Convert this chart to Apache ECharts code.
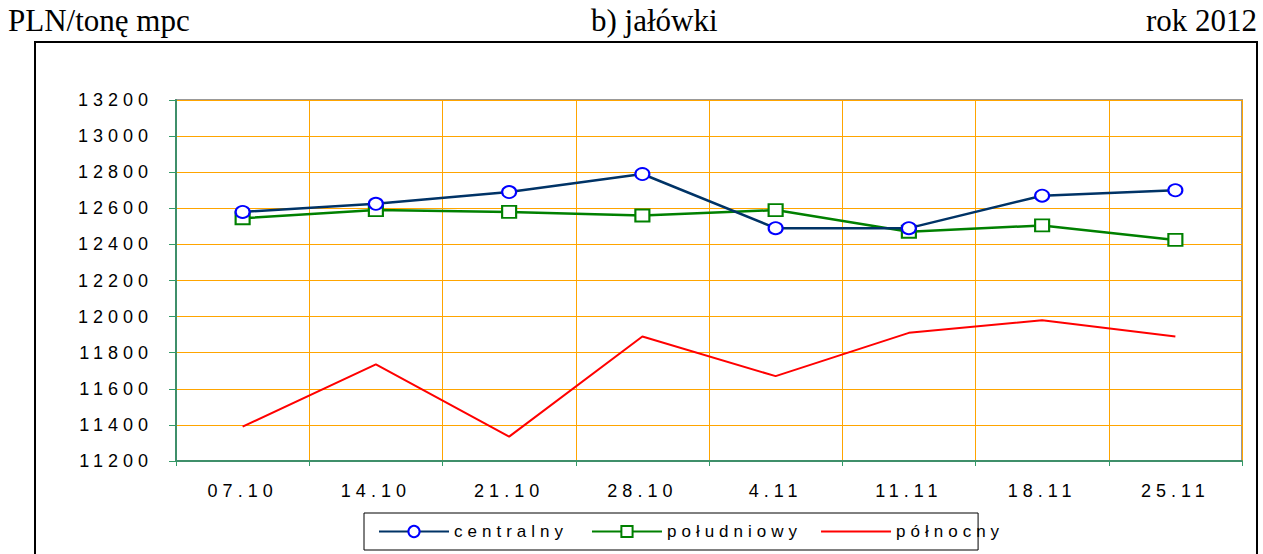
<!DOCTYPE html>
<html>
<head>
<meta charset="utf-8">
<script src="https://cdn.jsdelivr.net/npm/echarts@6/dist/echarts.min.js"></script>
<style>
  html, body { margin: 0; padding: 0; background: #fff; }
  #main { width: 1263px; height: 554px; }
  /* rozstrzelone napisy jak w Excelu, tytuly bez */
  #main text { letter-spacing: 5px; }
  #main text[style*="Serif"] { letter-spacing: 0; }
</style>
</head>
<body>
<div id="main"></div>
<script>
var categories = ['07.10', '14.10', '21.10', '28.10', '4.11', '11.11', '18.11', '25.11'];
var centralny = [12580, 12625, 12690, 12790, 12490, 12490, 12670, 12700];
var poludniowy = [12545, 12590, 12580, 12560, 12590, 12470, 12505, 12425];
var polnocny = [11390, 11735, 11335, 11890, 11670, 11910, 11980, 11890];

var chart = echarts.init(document.getElementById('main'), null, { renderer: 'svg' });

var serif = { fontFamily: 'Liberation Serif', fontSize: 31, fontWeight: 'normal', color: '#000' };
var sans = 'Liberation Sans';

var option = {
  animation: false,
  backgroundColor: '#fff',
  title: [
    { text: 'PLN/tonę mpc', left: 8, top: 5, padding: 0, textStyle: serif },
    { text: 'b) jałówki', left: 591, top: 5, padding: 0, textStyle: serif },
    { text: 'rok 2012', right: 6, top: 5, padding: 0, textStyle: serif }
  ],
  graphic: [
    {
      type: 'rect',
      shape: { x: 35, y: 42, width: 1222, height: 530 },
      style: { fill: 'none', stroke: '#000', lineWidth: 2 },
      silent: true
    }
  ],
  grid: {
    left: 176, top: 100, right: 21, bottom: 93,
    show: true, borderColor: '#999', borderWidth: 2, backgroundColor: '#fff'
  },
  legend: {
    left: 364, top: 513,
    padding: [10, 14, 10, 14],
    borderColor: '#000', borderWidth: 1,
    itemWidth: 70, itemHeight: 14, itemGap: 68,
    textStyle: { fontFamily: sans, fontSize: 17, color: '#000' },
    data: [
      'centralny',
      'południowy',
      { name: 'północny', itemStyle: { opacity: 0 } }
    ]
  },
  xAxis: {
    type: 'category',
    data: categories,
    boundaryGap: true,
    axisLine: { lineStyle: { color: '#3f8f6a', width: 2 } },
    axisTick: { show: true, length: 5, lineStyle: { color: '#339966' } },
    axisLabel: { fontFamily: sans, fontSize: 18, color: '#000', margin: 21 },
    splitLine: { show: true, lineStyle: { color: '#FFA500', width: 1 } }
  },
  yAxis: {
    type: 'value',
    min: 11200, max: 13200, interval: 200,
    axisLine: { show: true, lineStyle: { color: '#3f8f6a', width: 2 } },
    axisTick: { show: true, length: 7, lineStyle: { color: '#339966' } },
    axisLabel: {
      fontFamily: sans, fontSize: 18, color: '#000', margin: 23,
      formatter: function (v) { return String(v); }
    },
    splitLine: { show: true, lineStyle: { color: '#FFA500', width: 1 } }
  },
  series: [
    {
      name: 'centralny',
      type: 'line',
      data: centralny,
      symbol: 'emptyCircle',
      symbolSize: [14, 12],
      lineStyle: { color: '#003366', width: 2.5 },
      itemStyle: { color: '#0000FF', borderColor: '#0000FF', borderWidth: 2 },
      z: 4
    },
    {
      name: 'południowy',
      type: 'line',
      data: poludniowy,
      symbol: 'emptyRect',
      symbolSize: [14, 12],
      lineStyle: { color: '#008000', width: 2.5 },
      itemStyle: { color: '#008000', borderColor: '#008000', borderWidth: 2 },
      z: 3
    },
    {
      name: 'północny',
      type: 'line',
      data: polnocny,
      symbol: 'none',
      lineStyle: { color: '#FF0000', width: 2 },
      itemStyle: { color: '#FF0000' },
      z: 2
    }
  ]
};

chart.setOption(option);
</script>
</body>
</html>
